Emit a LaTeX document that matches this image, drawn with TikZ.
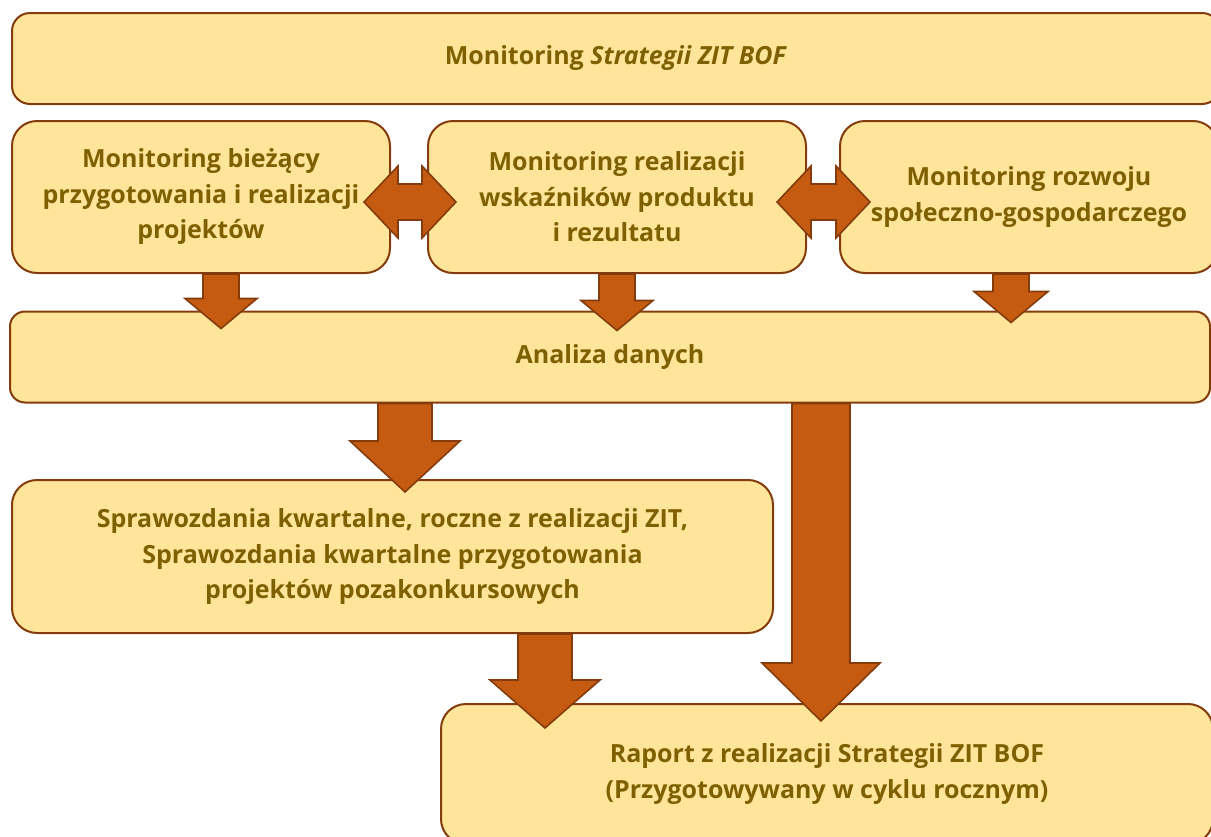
\documentclass[tikz,border=0pt]{standalone}
\usepackage{fontspec}
\setmainfont{Open Sans}
\usetikzlibrary{calc}
\definecolor{boxfill}{HTML}{FFE599}
\definecolor{boxline}{HTML}{843C0C}
\definecolor{arrfill}{HTML}{C55A11}
\definecolor{txt}{HTML}{7F6000}
\tikzset{
  box/.style={draw=boxline, fill=boxfill, line width=2pt, align=center,
    text=txt, font=\fontsize{25}{35.5}\selectfont\bfseries, inner sep=0pt},
  blockarrow/.style={draw=boxline, fill=arrfill, line width=1.6pt, line join=miter},
}
% vertical block arrow: start, end, shaft half width, head half width, head length
\newcommand\blkdown[5]{%
  \draw[blockarrow] let \p1=#1, \p2=#2 in
    (\x1-#3,\y1) -- (\x1+#3,\y1) -- (\x1+#3,\y2+#5) -- (\x1+#4,\y2+#5) -- (\x1,\y2)
    -- (\x1-#4,\y2+#5) -- (\x1-#3,\y2+#5) -- cycle;}
% horizontal double block arrow: left tip, right tip, shaft half, head half, head length
\newcommand\blkdouble[5]{%
  \draw[blockarrow] let \p1=#1, \p2=#2 in
    (\x1,\y1) -- (\x1+#5,\y1+#4) -- (\x1+#5,\y1+#3) -- (\x2-#5,\y1+#3) -- (\x2-#5,\y1+#4)
    -- (\x2,\y1) -- (\x2-#5,\y1-#4) -- (\x2-#5,\y1-#3) -- (\x1+#5,\y1-#3) -- (\x1+#5,\y1-#4) -- cycle;}
\begin{document}
\begin{tikzpicture}[x=1pt,y=-1pt]
\useasboundingbox (0,0) rectangle (1211,836);
\clip (0,0) rectangle (1211,836);
% boxes
\node[box, rounded corners=18pt, minimum width=1208pt, minimum height=91pt] (top) at (616,58.5)
  {Monitoring \textit{Strategii ZIT BOF}};
\node[box, rounded corners=25pt, minimum width=378pt, minimum height=152pt] (m1) at (201,197)
  {Monitoring bieżący\\przygotowania i realizacji\\projektów};
\node[box, rounded corners=25pt, minimum width=378pt, minimum height=152pt] (m2) at (617,197)
  {Monitoring realizacji\\wskaźników produktu\\i rezultatu};
\node[box, rounded corners=25pt, minimum width=378pt, minimum height=152pt] (m3) at (1029,197)
  {Monitoring rozwoju\\społeczno-gospodarczego};
\node[box, rounded corners=15pt, minimum width=1200pt, minimum height=91pt] (ana) at (610,357)
  {Analiza danych};
\node[box, rounded corners=25pt, minimum width=761pt, minimum height=153pt] (spr) at (392.5,556.5)
  {Sprawozdania kwartalne, roczne z realizacji ZIT,\\Sprawozdania kwartalne przygotowania\\projektów pozakonkursowych};
\node[box, rounded corners=25pt, minimum width=772pt, minimum height=140pt] (rap) at (827,774)
  {Raport z realizacji Strategii ZIT BOF\\(Przygotowywany w cyklu rocznym)};
% named points for arrows
\coordinate (d1s) at (221,0 |- m1.south);
\coordinate (d1e) at ($(221,0 |- ana.north)+(0,18)$);
\coordinate (d2s) at (617,0 |- m2.south);
\coordinate (d2e) at ($(617,0 |- ana.north)+(0,20)$);
\coordinate (d3s) at (1011,0 |- m3.south);
\coordinate (d3e) at ($(1011,0 |- ana.north)+(0,12)$);
\coordinate (d4s) at (405,0 |- ana.south);
\coordinate (d4e) at ($(405,0 |- spr.north)+(0,13)$);
\coordinate (d5s) at (545,0 |- spr.south);
\coordinate (d5e) at ($(545,0 |- rap.north)+(0,25)$);
\coordinate (d6s) at (821,0 |- ana.south);
\coordinate (d6e) at ($(821,0 |- rap.north)+(0,18)$);
\coordinate (h1l) at ($(m1.east)+(-27,5)$);
\coordinate (h1r) at ($(m2.west)+(29,5)$);
\coordinate (h2l) at ($(m2.east)+(-30,5)$);
\coordinate (h2r) at ($(m3.west)+(31,5)$);
% arrows
\blkdown{(d1s)}{(d1e)}{18}{36}{30}
\blkdown{(d2s)}{(d2e)}{18}{36}{30}
\blkdown{(d3s)}{(d3e)}{18}{37}{31}
\blkdown{(d4s)}{(d4e)}{27}{55}{51}
\blkdown{(d5s)}{(d5e)}{27}{55}{48}
\blkdown{(d6s)}{(d6e)}{29}{59}{58}
\blkdouble{(h1l)}{(h1r)}{18}{36}{34}
\blkdouble{(h2l)}{(h2r)}{18}{36}{34}
\end{tikzpicture}
\end{document}
